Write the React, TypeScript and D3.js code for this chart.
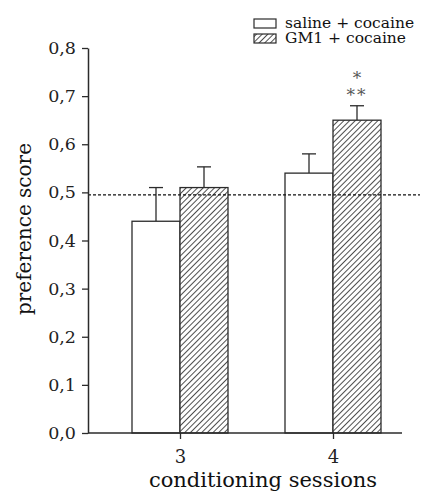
import * as d3 from "d3";
import { useEffect, useRef } from "react";

const sessions = ["3", "4"];
const groups = ["saline + cocaine", "GM1 + cocaine"];
const salineMean = [0.44, 0.54];
const salineErr = [0.07, 0.04];
const gm1Mean = [0.51, 0.65];
const gm1Err = [0.043, 0.03];
const yTicks = [0, 0.1, 0.2, 0.3, 0.4, 0.5, 0.6, 0.7, 0.8];
const chanceLevel = 0.495;
const sigMarks = ["*", "**"];

export default function App() {
    const ref = useRef<SVGSVGElement>(null);

    useEffect(() => {
        const svg = d3.select(ref.current);
        svg.selectAll("*").remove();

        const width = 423;
        const height = 491;
        const font = "DejaVu Serif, Liberation Serif, serif";
        const ink = "#2b2b2b";

        svg.attr("width", width).attr("height", height)
            .style("font-family", font);

        const defs = svg.append("defs");
        const pat = defs.append("pattern")
            .attr("id", "hatch")
            .attr("patternUnits", "userSpaceOnUse")
            .attr("width", 4)
            .attr("height", 4)
            .attr("patternTransform", "rotate(45)");
        pat.append("rect").attr("width", 4).attr("height", 4).attr("fill", "white");
        pat.append("line")
            .attr("x1", 0).attr("y1", 0).attr("x2", 0).attr("y2", 4)
            .attr("stroke", "#222").attr("stroke-width", 1.6);

        const y = d3.scaleLinear().domain([0, 0.8]).range([433, 48]);
        const x = d3.scalePoint().domain(sessions).range([180, 333]);
        const inner = d3.scaleBand().domain(groups).range([-48, 48]);

        const rows = sessions.flatMap((s, i) => [
            { s, g: groups[0], v: salineMean[i], e: salineErr[i] },
            { s, g: groups[1], v: gm1Mean[i], e: gm1Err[i] },
        ]);

        // error bars (drawn first so bar tops cover them)
        const eb = svg.append("g").attr("stroke", ink).attr("stroke-width", 1.3);
        rows.forEach(d => {
            const cx = x(d.s)! + inner(d.g)! + inner.bandwidth() / 2;
            eb.append("line").attr("x1", cx).attr("x2", cx).attr("y1", y(d.v)).attr("y2", y(d.v + d.e));
            eb.append("line").attr("x1", cx - 7).attr("x2", cx + 7).attr("y1", y(d.v + d.e)).attr("y2", y(d.v + d.e));
        });

        // bars
        svg.append("g")
            .selectAll("rect")
            .data(rows)
            .join("rect")
            .attr("x", d => x(d.s)! + inner(d.g)!)
            .attr("y", d => y(d.v))
            .attr("width", inner.bandwidth())
            .attr("height", d => y(0) - y(d.v))
            .attr("fill", d => d.g === groups[0] ? "white" : "url(#hatch)")
            .attr("stroke", ink)
            .attr("stroke-width", 1.3);

        // chance line
        svg.append("line")
            .attr("x1", 88).attr("x2", 420)
            .attr("y1", y(chanceLevel)).attr("y2", y(chanceLevel))
            .attr("stroke", "#111").attr("stroke-width", 1.2)
            .attr("stroke-dasharray", "3,2");

        // axes
        const yAxis = svg.append("g")
            .attr("transform", "translate(88,0)")
            .call(d3.axisLeft(y).tickValues(yTicks).tickSize(6).tickSizeOuter(0)
                .tickFormat(d => d3.format(".1f")(d as number).replace(".", ",")));
        yAxis.attr("font-family", null).attr("font-size", null);
        yAxis.select(".domain").attr("stroke", ink).attr("stroke-width", 1.5);
        yAxis.selectAll("line").attr("stroke", ink).attr("stroke-width", 1.3);
        yAxis.selectAll("text")
            .attr("font-size", 17.5).attr("fill", "#222")
            .attr("x", -12);

        const xAxis = svg.append("g")
            .attr("transform", "translate(0,433)")
            .call(d3.axisBottom(x).tickSize(6).tickSizeOuter(0));
        xAxis.attr("font-family", null).attr("font-size", null);
        xAxis.select(".domain").attr("d", "M88,0H402").attr("stroke", ink).attr("stroke-width", 1.5);
        xAxis.selectAll("line").attr("stroke", ink).attr("stroke-width", 1.3);
        xAxis.selectAll("text")
            .attr("font-size", 18).attr("fill", "#222")
            .attr("y", 30).attr("dy", null);

        svg.append("text")
            .attr("x", 263).attr("y", 487)
            .attr("text-anchor", "middle")
            .attr("font-size", 21).attr("fill", "#111")
            .text("conditioning sessions");

        svg.append("text")
            .attr("transform", "translate(31,229) rotate(-90)")
            .attr("text-anchor", "middle")
            .attr("font-size", 20).attr("fill", "#111")
            .text("preference score");

        // significance marks, stacked above the GM1 bar at session 4
        const sx = x("4")! + inner(groups[1])! + inner.bandwidth() / 2;
        const sig = svg.append("text")
            .attr("text-anchor", "middle")
            .attr("font-size", 17).attr("fill", "#555");
        sigMarks.forEach((m, i) => {
            sig.append("tspan")
                .attr("x", sx).attr("y", 84 + i * 17)
                .attr("letter-spacing", i ? 2 : 0)
                .text(m);
        });

        // legend
        const leg = svg.append("g").attr("transform", "translate(254,19)");
        groups.forEach((g, i) => {
            leg.append("rect")
                .attr("x", 0).attr("y", i * 15)
                .attr("width", 22).attr("height", 9)
                .attr("fill", i === 0 ? "white" : "url(#hatch)")
                .attr("stroke", ink).attr("stroke-width", 1.2);
            leg.append("text")
                .attr("x", 31).attr("y", i * 15 + 9)
                .attr("font-size", 15.5).attr("fill", "#111")
                .text(g);
        });
    }, []);

    return (
        <div style={{ position: "absolute", left: 0, top: 0 }}>
            <svg ref={ref}></svg>
        </div>
    );
}
